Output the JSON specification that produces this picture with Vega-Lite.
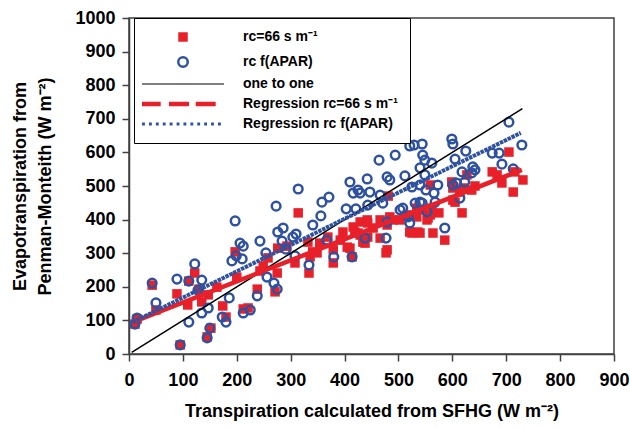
{
  "$schema": "https://vega.github.io/schema/vega-lite/v6.json",
  "width": 485,
  "height": 336,
  "autosize": "none",
  "padding": {"left": 129, "top": 18, "right": 16, "bottom": 75},
  "background": "white",
  "datasets": {
    "red": [
      {"s":"A","x":11,"y":89},{"s":"A","x":15,"y":104},{"s":"A","x":43,"y":205},{"s":"A","x":50,"y":131},{"s":"A","x":95,"y":27},
      {"s":"A","x":89,"y":179},{"s":"A","x":111,"y":217},{"s":"A","x":122,"y":241},{"s":"A","x":109,"y":146},{"s":"A","x":135,"y":155},
      {"s":"A","x":145,"y":51},{"s":"A","x":152,"y":77},{"s":"A","x":130,"y":193},{"s":"A","x":147,"y":176},{"s":"A","x":163,"y":199},
      {"s":"A","x":174,"y":143},{"s":"A","x":180,"y":110},{"s":"A","x":197,"y":304},{"s":"A","x":200,"y":229},{"s":"A","x":212,"y":134},
      {"s":"A","x":221,"y":137},{"s":"A","x":238,"y":193},{"s":"A","x":243,"y":247},{"s":"A","x":249,"y":262},{"s":"A","x":258,"y":286},
      {"s":"A","x":276,"y":315},{"s":"A","x":275,"y":241},{"s":"A","x":271,"y":185},{"s":"A","x":293,"y":321},{"s":"A","x":308,"y":271},
      {"s":"A","x":314,"y":420},{"s":"A","x":334,"y":241},{"s":"A","x":341,"y":304},{"s":"A","x":354,"y":330},{"s":"A","x":369,"y":348},
      {"s":"A","x":379,"y":271},{"s":"A","x":410,"y":315},{"s":"A","x":416,"y":378},{"s":"A","x":429,"y":354},{"s":"A","x":438,"y":330},
      {"s":"A","x":442,"y":399},{"s":"A","x":443,"y":348},{"s":"A","x":544,"y":429},{"s":"A","x":534,"y":408},{"s":"A","x":516,"y":414},
      {"s":"A","x":503,"y":399},{"s":"A","x":490,"y":399},{"s":"A","x":466,"y":399},{"s":"A","x":479,"y":384},{"s":"A","x":453,"y":375},
      {"s":"A","x":443,"y":390},{"s":"A","x":429,"y":393},{"s":"A","x":419,"y":363},{"s":"A","x":397,"y":363},{"s":"A","x":392,"y":339},
      {"s":"A","x":405,"y":318},{"s":"A","x":379,"y":310},{"s":"A","x":349,"y":301},{"s":"A","x":336,"y":289},{"s":"A","x":536,"y":363},
      {"s":"A","x":525,"y":360},{"s":"A","x":434,"y":333},{"s":"A","x":466,"y":345},{"s":"A","x":479,"y":310},{"s":"A","x":414,"y":289},
      {"s":"A","x":553,"y":399},{"s":"A","x":477,"y":301},{"s":"A","x":586,"y":339},{"s":"A","x":564,"y":360},{"s":"A","x":540,"y":360},
      {"s":"A","x":521,"y":363},{"s":"A","x":575,"y":420},{"s":"A","x":601,"y":458},{"s":"A","x":559,"y":414},{"s":"A","x":534,"y":434},
      {"s":"A","x":484,"y":408},{"s":"A","x":425,"y":360},{"s":"A","x":481,"y":470},{"s":"A","x":705,"y":601},{"s":"A","x":731,"y":518},
      {"s":"A","x":713,"y":482},{"s":"A","x":716,"y":542},{"s":"A","x":692,"y":509},{"s":"A","x":674,"y":542},{"s":"A","x":683,"y":533},
      {"s":"A","x":642,"y":500},{"s":"A","x":636,"y":488},{"s":"A","x":620,"y":494},{"s":"A","x":614,"y":482},{"s":"A","x":601,"y":494},
      {"s":"A","x":599,"y":512},{"s":"A","x":605,"y":452},{"s":"A","x":618,"y":420},{"s":"A","x":562,"y":434},{"s":"A","x":559,"y":503},
      {"s":"A","x":555,"y":405},{"s":"A","x":627,"y":533},{"s":"A","x":332,"y":333}
    ],
    "blue": [
      {"s":"B","x":11,"y":89},{"s":"B","x":15,"y":107},{"s":"B","x":43,"y":211},{"s":"B","x":50,"y":152},{"s":"B","x":95,"y":27},
      {"s":"B","x":89,"y":223},{"s":"B","x":111,"y":217},{"s":"B","x":122,"y":268},{"s":"B","x":111,"y":95},{"s":"B","x":135,"y":220},
      {"s":"B","x":128,"y":190},{"s":"B","x":145,"y":48},{"s":"B","x":150,"y":77},{"s":"B","x":147,"y":137},{"s":"B","x":135,"y":122},
      {"s":"B","x":173,"y":110},{"s":"B","x":180,"y":95},{"s":"B","x":186,"y":167},{"s":"B","x":197,"y":396},{"s":"B","x":191,"y":277},
      {"s":"B","x":199,"y":292},{"s":"B","x":210,"y":283},{"s":"B","x":206,"y":330},{"s":"B","x":212,"y":321},{"s":"B","x":212,"y":122},
      {"s":"B","x":225,"y":131},{"s":"B","x":238,"y":173},{"s":"B","x":243,"y":336},{"s":"B","x":254,"y":301},{"s":"B","x":256,"y":229},
      {"s":"B","x":269,"y":211},{"s":"B","x":275,"y":193},{"s":"B","x":273,"y":440},{"s":"B","x":276,"y":363},{"s":"B","x":286,"y":375},
      {"s":"B","x":284,"y":336},{"s":"B","x":291,"y":312},{"s":"B","x":304,"y":348},{"s":"B","x":310,"y":357},{"s":"B","x":308,"y":292},
      {"s":"B","x":314,"y":491},{"s":"B","x":334,"y":265},{"s":"B","x":341,"y":384},{"s":"B","x":356,"y":411},{"s":"B","x":358,"y":452},
      {"s":"B","x":371,"y":467},{"s":"B","x":367,"y":339},{"s":"B","x":380,"y":289},{"s":"B","x":403,"y":432},{"s":"B","x":410,"y":512},
      {"s":"B","x":414,"y":289},{"s":"B","x":416,"y":479},{"s":"B","x":425,"y":488},{"s":"B","x":429,"y":479},{"s":"B","x":442,"y":521},
      {"s":"B","x":421,"y":432},{"s":"B","x":443,"y":443},{"s":"B","x":438,"y":345},{"s":"B","x":447,"y":482},{"s":"B","x":466,"y":473},
      {"s":"B","x":464,"y":577},{"s":"B","x":494,"y":592},{"s":"B","x":521,"y":619},{"s":"B","x":529,"y":622},{"s":"B","x":544,"y":625},
      {"s":"B","x":545,"y":592},{"s":"B","x":549,"y":577},{"s":"B","x":479,"y":527},{"s":"B","x":484,"y":518},{"s":"B","x":512,"y":530},
      {"s":"B","x":525,"y":497},{"s":"B","x":551,"y":488},{"s":"B","x":566,"y":479},{"s":"B","x":540,"y":554},{"s":"B","x":503,"y":429},
      {"s":"B","x":508,"y":434},{"s":"B","x":471,"y":449},{"s":"B","x":518,"y":408},{"s":"B","x":521,"y":390},{"s":"B","x":479,"y":393},
      {"s":"B","x":477,"y":345},{"s":"B","x":531,"y":449},{"s":"B","x":540,"y":452},{"s":"B","x":705,"y":690},{"s":"B","x":599,"y":640},
      {"s":"B","x":601,"y":625},{"s":"B","x":729,"y":622},{"s":"B","x":625,"y":604},{"s":"B","x":674,"y":598},{"s":"B","x":687,"y":598},
      {"s":"B","x":562,"y":568},{"s":"B","x":605,"y":580},{"s":"B","x":692,"y":565},{"s":"B","x":713,"y":551},{"s":"B","x":638,"y":557},
      {"s":"B","x":642,"y":548},{"s":"B","x":618,"y":542},{"s":"B","x":636,"y":539},{"s":"B","x":573,"y":503},{"s":"B","x":601,"y":503},
      {"s":"B","x":608,"y":509},{"s":"B","x":623,"y":512},{"s":"B","x":549,"y":533},{"s":"B","x":544,"y":449},{"s":"B","x":568,"y":452},
      {"s":"B","x":553,"y":423},{"s":"B","x":614,"y":464},{"s":"B","x":586,"y":375},{"s":"B","x":540,"y":503}
    ],
    "lines": [
      {"s":"C","x":5,"y":5},{"s":"C","x":730,"y":730},
      {"s":"D","x":7,"y":95},{"s":"D","x":729,"y":548},
      {"s":"E","x":7,"y":95},{"s":"E","x":727,"y":658}
    ]
  },
  "encoding": {
    "x": {
      "field": "x", "type": "quantitative",
      "scale": {"domain": [0, 900], "nice": false, "zero": false},
      "axis": {
        "values": [0,100,200,300,400,500,600,700,800,900],
        "title": "Transpiration calculated from SFHG (W m⁻²)",
        "labelPadding": 10, "titlePadding": 13
      }
    },
    "y": {
      "field": "y", "type": "quantitative",
      "scale": {"domain": [0, 1000], "nice": false, "zero": false},
      "axis": {
        "values": [0,100,200,300,400,500,600,700,800,900,1000],
        "format": "d",
        "title": ["Evapotranspiration from", "Penman-Monteith (W m⁻²)"],
        "labelPadding": 7,
        "titleX": -118, "titleY": 168, "titleBaseline": "top", "titleAlign": "center", "titleAngle": 270,
        "titleLineHeight": 25
      }
    }
  },
  "layer": [
    {
      "data": {"name": "red"},
      "mark": {"type": "point", "size": 90, "opacity": 1, "filled": true, "strokeWidth": 0},
      "encoding": {
        "shape": {
          "field": "s", "type": "nominal",
          "scale": {"domain": ["A","B","C","D","E"], "range": [
            "square",
            "circle",
            "M-8.65,-0.16H8.65V0.16H-8.65Z",
            "M-8.64,-0.47H-4.7V0.47H-8.64Z M-2.95,-0.47H1.27V0.47H-2.95Z M2.68,-0.47H6.89V0.47H2.68Z",
            "M-8.63,-0.3h0.6v0.6h-0.6z M-7.17,-0.3h0.6v0.6h-0.6z M-5.72,-0.3h0.6v0.6h-0.6z M-4.26,-0.3h0.6v0.6h-0.6z M-2.81,-0.3h0.6v0.6h-0.6z M-1.35,-0.3h0.6v0.6h-0.6z M0.1,-0.3h0.6v0.6h-0.6z M1.56,-0.3h0.6v0.6h-0.6z M3.01,-0.3h0.6v0.6h-0.6z M4.47,-0.3h0.6v0.6h-0.6z M5.92,-0.3h0.6v0.6h-0.6z M7.38,-0.3h0.6v0.6h-0.6z"
          ]},
          "legend": {
            "title": null, "orient": "none", "legendX": 5, "legendY": 0, "direction": "vertical",
            "padding": 12, "rowPadding": 5,
            "labelFontSize": 14, "labelFontWeight": "bold", "labelColor": "black", "labelLimit": 400,
            "symbolSize": 90, "symbolStrokeWidth": 2.5, "symbolOffset": 30, "labelOffset": 53,
            "strokeColor": "black", "fillColor": "white",
            "labelExpr": "datum.value==='A'?'rc=66 s m⁻¹':datum.value==='B'?'rc f(APAR)':datum.value==='C'?'one to one':datum.value==='D'?'Regression rc=66 s m⁻¹':'Regression rc f(APAR)'"
          }
        },
        "fill": {
          "field": "s", "type": "nominal",
          "scale": {"domain": ["A","B","C","D","E"], "range": ["#E8202A","transparent","#555555","#E8202A","#2F52A0"]}
        }
      }
    },
    {
      "data": {"name": "blue"},
      "mark": {"type": "point", "filled": false, "size": 75, "strokeWidth": 2.5, "opacity": 1},
      "encoding": {
        "shape": {"field": "s", "type": "nominal"},
        "stroke": {
          "field": "s", "type": "nominal",
          "scale": {"domain": ["A","B","C","D","E"], "range": ["transparent","#2F52A0","transparent","transparent","transparent"]}
        }
      }
    },
    {
      "data": {"name": "lines"},
      "transform": [{"filter": "datum.s === 'C'"}],
      "mark": {"type": "line", "strokeWidth": 1.5, "stroke": "#000000"},
      "encoding": {}
    },
    {
      "data": {"name": "lines"},
      "transform": [{"filter": "datum.s === 'D'"}],
      "mark": {"type": "line", "strokeWidth": 4.5, "stroke": "#E8202A"},
      "encoding": {}
    },
    {
      "data": {"name": "lines"},
      "transform": [{"filter": "datum.s === 'E'"}],
      "mark": {"type": "line", "strokeWidth": 4, "strokeDash": [3.5, 0.8], "stroke": "#2F52A0"},
      "encoding": {}
    }
  ],
  "config": {
    "font": "Liberation Sans",
    "view": {"stroke": "#404040", "strokeWidth": 1.5},
    "axis": {
      "grid": false,
      "domainColor": "#404040", "domainWidth": 1.5,
      "tickColor": "#404040", "tickWidth": 1.5, "tickSize": 7,
      "labelFontSize": 18, "labelFontWeight": "bold", "labelColor": "black",
      "labelFlush": false, "labelOverlap": false, "labelBound": false,
      "titleFontSize": 18, "titleFontWeight": "bold", "titleColor": "black"
    }
  }
}
